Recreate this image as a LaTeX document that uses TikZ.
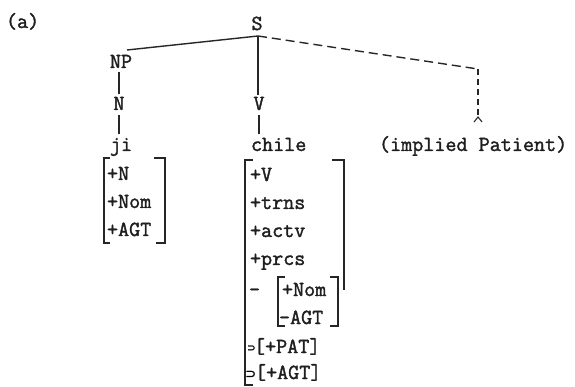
\documentclass[tikz,border=0pt]{standalone}
\usepackage{fontspec}
\newfontfamily\tw{Latin Modern Mono}[FakeBold=1.6]
\newfontfamily\symfont{DejaVu Sans}[FakeBold=1.2]
\begin{document}
\begin{tikzpicture}[x=1pt,y=-1pt,
  lbl/.style={font=\tw\fontsize{21.5}{23}\selectfont, inner sep=0pt, outer sep=0pt, text=black!88},
  treeline/.style={line width=1.4pt, black!85},
  brk/.style={line width=1.4pt, black!85},
  dashA/.style={treeline, dash pattern=on 9pt off 5pt},
  dashB/.style={treeline, dash pattern=on 6pt off 4pt}]
\useasboundingbox (0,0) rectangle (575,387);
% labels of the tree
\node[lbl,anchor=base west] (a) at (6,28) {(a)};
\node[lbl,anchor=base] (S) at (257,30) {S};
\coordinate (J) at (258,36);
\node[lbl,anchor=base] (NP) at (121,68) {NP};
\coordinate (NPt) at (127,50);
\node[lbl,anchor=base] (N) at (119,110) {N};
\node[lbl,anchor=base] (V) at (259,110) {V};
\node[lbl,anchor=base] (ji) at (121,151) {ji};
\node[lbl,anchor=base west] (chile) at (251,151) {chile};
\node[lbl,anchor=base west] (imp) at (379,151) {(implied Patient)};
\coordinate (D) at (478,69);
\coordinate (C) at (478,117);
% connectors
\draw[treeline] (NPt) -- (J);
\draw[treeline, shorten >=2pt] (J) -- (J |- V.north);
\draw[treeline, shorten <=4pt, shorten >=3pt] (N.north |- NP.south) -- (N.north);
\draw[treeline, shorten <=5pt, shorten >=4pt] (N.south) -- (N.south |- ji.north);
\draw[treeline, shorten <=5pt, shorten >=4pt] (V.south) -- (V.south |- chile.north);
\draw[dashA] (J) -- (D);
\draw[dashB] (D) -- (C);
\draw[line width=1.1pt, black!85] (474,122) -- (C) -- (482,122);
% feature matrix of ji
\draw[brk] (110,158) -- (104,158) -- (104,243) -- (110,243);
\draw[brk] (154,158) -- (165,158) -- (165,243) -- (156,243);
\node[lbl,anchor=base west] (f1) at (107,180) {+N};
\node[lbl,anchor=base west] (f2) at (107,208) {+Nom};
\node[lbl,anchor=base west] (f3) at (107,236) {+AGT};
% feature matrix of chile
\draw[brk] (253,160) -- (245,160) -- (245,385) -- (253,385);
\draw[brk] (332,160) -- (344,160) -- (344,290);
\node[lbl,anchor=base west] (g1) at (250,181) {+V};
\node[lbl,anchor=base west] (g2) at (250,209) {+trns};
\node[lbl,anchor=base west] (g3) at (250,237) {+actv};
\node[lbl,anchor=base west] (g4) at (250,265) {+prcs};
\node[lbl,anchor=base west] (g5) at (249,296) {-};
\draw[brk] (285,277) -- (278,277) -- (278,326) -- (285,326);
\draw[brk] (330,277) -- (338,277) -- (338,326) -- (330,326);
\node[lbl,anchor=base west] (g6) at (282,296) {+Nom};
\node[lbl,anchor=base west] (g7) at (279,324) {-AGT};
\node[inner sep=0pt,anchor=base west,font=\symfont\fontsize{10}{11}\selectfont] (h1) at (247,351) {⊃};
\node[lbl,anchor=base west] (g8) at (254,353) {[+PAT]};
\node[inner sep=0pt,anchor=base west,font=\symfont\fontsize{13}{14}\selectfont] (h2) at (245,378) {⊃};
\node[lbl,anchor=base west] (g9) at (255,379) {[+AGT]};
\end{tikzpicture}
\end{document}
